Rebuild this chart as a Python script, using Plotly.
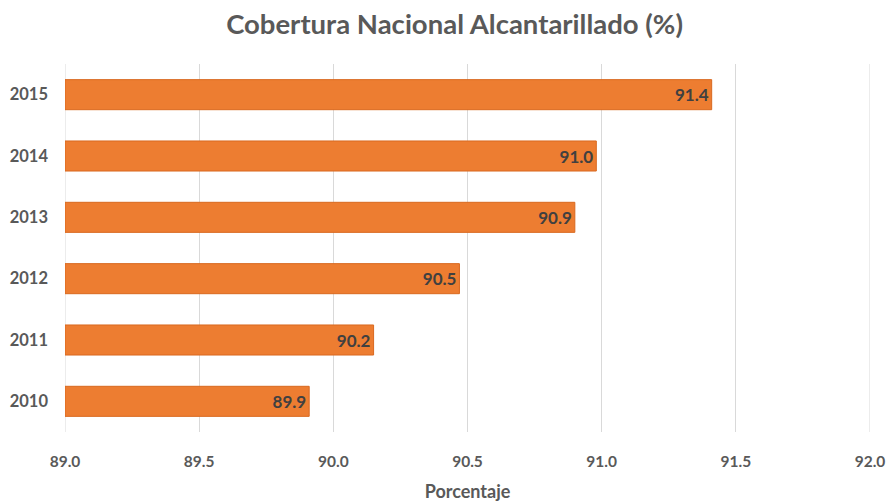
import plotly.graph_objects as go

years = ["2010", "2011", "2012", "2013", "2014", "2015"]
coverage = [89.91, 90.15, 90.47, 90.90, 90.98, 91.41]
x_ticks = [89.0, 89.5, 90.0, 90.5, 91.0, 91.5, 92.0]
x_tick_labels = ["89.0", "89.5", "90.0", "90.5", "91.0", "91.5", "92.0"]

font_family = "Lato, 'Open Sans', sans-serif"
grid_color = "#D9D9D9"

fig = go.Figure(
    go.Bar(
        y=years,
        x=[v - 89.0 for v in coverage],
        base=89.0,
        orientation="h",
        width=0.49,
        marker=dict(color="#ED7D31", line=dict(color="#D9691F", width=1)),
        text=[f"{v:.1f}" for v in coverage],
        textposition="inside",
        insidetextanchor="end",
        textfont=dict(family=font_family, size=17, color="#404040", weight="bold"),
        hoverinfo="skip",
    )
)

# Plotly omits gridlines at the range ends; draw those two explicitly
for xv in (x_ticks[0], x_ticks[-1]):
    fig.add_shape(
        type="line", xref="x", yref="paper", x0=xv, x1=xv, y0=0, y1=1,
        line=dict(color=grid_color, width=1), layer="below",
    )

fig.update_layout(
    width=889,
    height=502,
    paper_bgcolor="white",
    plot_bgcolor="white",
    margin=dict(l=65, r=19, t=64, b=70, autoexpand=False),
    showlegend=False,
    title=dict(
        text="<b>Cobertura Nacional Alcantarillado (%)</b>",
        x=0.5113,
        xanchor="center",
        y=0.952,
        yanchor="middle",
        font=dict(family=font_family, size=27.5, color="#595959"),
    ),
    xaxis=dict(
        range=[89.0, 92.0],
        tickvals=x_ticks,
        ticktext=x_tick_labels,
        showgrid=True,
        gridcolor=grid_color,
        gridwidth=1,
        zeroline=False,
        showline=False,
        ticks="",
        automargin=False,
        ticklabelstandoff=18,
        tickfont=dict(family=font_family, size=15.5, color="#595959", weight="bold"),
        title=dict(
            text="<b>Porcentaje</b>",
            font=dict(family=font_family, size=18, color="#595959"),
            standoff=16,
        ),
    ),
    yaxis=dict(
        categoryorder="array",
        categoryarray=years,
        showgrid=False,
        ticks="",
        automargin=False,
        ticklabelstandoff=16,
        tickfont=dict(family=font_family, size=16.5, color="#595959", weight="bold"),
        range=[-0.5, 5.5],
    ),
)

fig.write_html(
    "out.html",
    config={"displayModeBar": False},
    post_script="document.body.style.margin='0';document.body.style.overflow='hidden';",
)
